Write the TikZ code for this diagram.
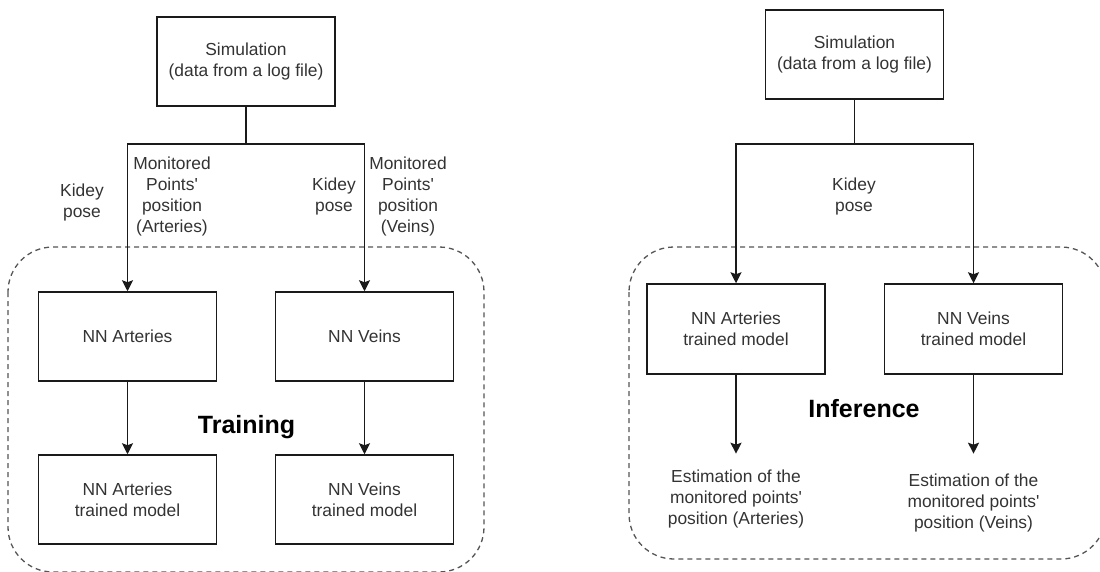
\documentclass[tikz,border=0pt]{standalone}
\usepackage{fontspec}
\setmainfont{Liberation Sans}
% plain family without TeX ligature mapping keeps straight apostrophes
\newfontfamily\labelfont{Liberation Sans}
\usetikzlibrary{arrows.meta}
\definecolor{txt}{HTML}{333333}
\definecolor{ln}{HTML}{1A1A1A}
\definecolor{grp}{HTML}{555555}
\begin{document}
\begin{tikzpicture}[x=1pt,y=-1pt,
  every node/.style={font=\labelfont\fontsize{17.4}{21}\selectfont, text=txt, align=center},
  blockbox/.style={draw=ln, line width=1.5pt, minimum width=178pt, minimum height=89pt, inner sep=0pt},
  lbl/.style={inner sep=0pt},
  arr/.style={draw=ln, line width=1.5pt, -{Stealth[length=11pt,width=11pt,inset=2pt]}},
  conn/.style={draw=ln, line width=1.5pt},
  group/.style={draw=grp, line width=1.3pt, dash pattern=on 5pt off 4pt, rounded corners=45pt},
  title/.style={font=\labelfont\fontsize{25}{30}\selectfont\bfseries, text=black, inner sep=0pt, anchor=base}]
\useasboundingbox (0,0) rectangle (1100,572);

% ---------- Training ----------
\draw[group] (8,247) rectangle (484,572);
\node[blockbox] (simL) at (246,61.5) {Simulation\\(data from a log file)};
\node[blockbox] (nnA) at (127.5,336.5) {NN Arteries};
\node[blockbox] (nnV) at (364.5,336.5) {NN Veins};
\node[blockbox] (trA) at (127.5,499.5) {NN Arteries\\trained model};
\node[blockbox] (trV) at (364.5,499.5) {NN Veins\\trained model};
\coordinate (jL) at (246,144);
\draw[conn] (simL.south) -- (jL);
\draw[arr] (jL) -| (nnA.north);
\draw[arr] (jL) -| (nnV.north);
\draw[arr] (nnA.south) -- (trA.north);
\draw[arr] (nnV.south) -- (trV.north);
\node[lbl] (kpA) at (82,203) {Kidey\\pose};
\node[lbl] (mpA) at (172,196) {Monitored\\Points'\\position\\(Arteries)};
\node[lbl] (kpV) at (334,197) {Kidey\\pose};
\node[lbl] (mpV) at (408,196) {Monitored\\Points'\\position\\(Veins)};
\node[title] (trn) at (246.5,433) {Training};

% ---------- Inference ----------
\draw[group] (629,247) rectangle (1106,559);
\node[blockbox] (simR) at (854.5,54.5) {Simulation\\(data from a log file)};
\node[blockbox, minimum height=90pt] (inA) at (736,329) {NN Arteries\\trained model};
\node[blockbox, minimum height=90pt] (inV) at (973.5,329) {NN Veins\\trained model};
\coordinate (jR) at (854.5,144);
\draw[conn] (simR.south) -- (jR);
\draw[arr] (jR) -| (inA.north);
\draw[arr] (jR) -| (inV.north);
\node[lbl] (kpR) at (854,197) {Kidey\\pose};
\node[inner xsep=0pt, inner ysep=16pt] (esA) at (736,499) {Estimation of the\\monitored points'\\position (Arteries)};
\node[inner xsep=0pt, inner ysep=20pt] (esV) at (973.5,503) {Estimation of the\\monitored points'\\position (Veins)};
\draw[arr] (inA.south) -- (esA.north);
\draw[arr] (inV.south) -- (esV.north);
\node[title] (inf) at (864,417) {Inference};
\end{tikzpicture}
\end{document}
